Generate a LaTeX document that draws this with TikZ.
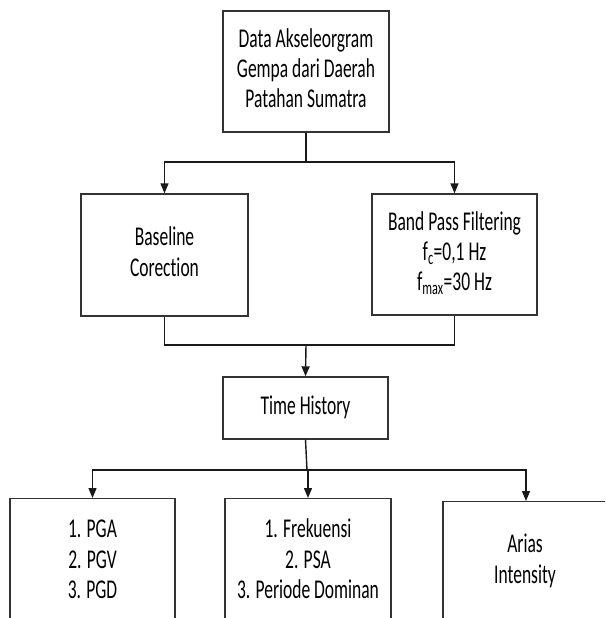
\documentclass[tikz,border=0pt]{standalone}
\usepackage{fontspec}
\setmainfont{Carlito}[Ligatures=NoCommon]
\usetikzlibrary{arrows.meta}
\newcommand\stx[1]{\scalebox{1}[1.55]{\fontsize{17.5}{19.4}\selectfont\begin{tabular}{@{}c@{}}#1\end{tabular}}}
\tikzset{
  box/.style={draw=black!80, line width=1.4pt, align=center, inner sep=0pt},
  txt/.style={align=center, inner sep=0pt},
  conn/.style={draw=black!90, line width=1.4pt},
  arr/.style={conn, -{Triangle[length=10pt,width=8pt]}}
}
\begin{document}
\begin{tikzpicture}[x=1pt,y=-1pt]
\useasboundingbox (0,0) rectangle (605,618);
\clip (0,0) rectangle (605,618);
\fill[white] (0,0) rectangle (605,618);
\node[box, minimum width=166pt, minimum height=121pt] (top) at (306,71.5)
  {\stx{Data Akseleorgram\\Gempa dari Daerah\\Patahan Sumatra}};
\node[box, minimum width=167pt, minimum height=122pt] (base) at (164.5,255)
  {\stx{Baseline\\Corection}};
\node[box, minimum width=165pt, minimum height=121pt] (band) at (454.5,254.5)
  {\stx{Band Pass Filtering\\f\textsubscript{c}=0,1 Hz\\f\textsubscript{max}=30 Hz}};
\node[box, minimum width=165pt, minimum height=62pt] (time) at (305.5,408)
  {\stx{Time History}};
\node[box, anchor=north, minimum width=165pt, minimum height=160pt] (b1) at (92.5,498) {};
\node[box, anchor=north, minimum width=166pt, minimum height=160pt] (b2) at (308,498) {};
\node[box, anchor=north, minimum width=166pt, minimum height=160pt] (b3) at (526,501) {};
\node[txt] (t1) at (92.5,562) {\stx{1. PGA\\2. PGV\\3. PGD}};
\node[txt] (t2) at (308,562) {\stx{1. Frekuensi\\2. PSA\\3. Periode Dominan}};
\node[txt] (t3) at (525,562) {\stx{Arias\\Intensity}};
\coordinate (j1) at (306,162);
\coordinate (j2) at (306,345);
\coordinate (j3) at (307,470);
\draw[conn] (top.south) -- (j1);
\draw[arr] (j1) -| (base.north);
\draw[arr] (j1) -| (band.north);
\draw[conn] (base.south) |- (j2);
\draw[conn] (band.south) |- (j2);
\draw[arr] (j2) -- (time.north);
\draw[conn] (time.south) -- (j3);
\draw[arr] (j3) -| (b1.north);
\draw[arr] (j3) -| (b2.north);
\draw[arr] (j3) -| (b3.north);
\end{tikzpicture}
\end{document}
